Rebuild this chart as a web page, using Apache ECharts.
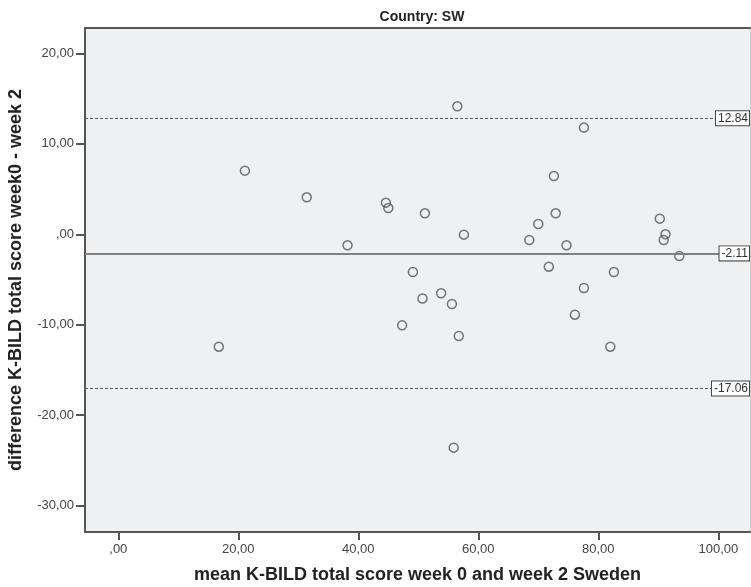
<!DOCTYPE html>
<html>
<head>
<meta charset="utf-8">
<script src="https://cdn.jsdelivr.net/npm/echarts@6/dist/echarts.min.js"></script>
<style>
html,body{margin:0;padding:0;background:#fff;}
#chart{width:751px;height:587px;}
</style>
</head>
<body>
<div id="chart"></div>
<script>
// Data
var meanScores = [16.75, 21.1, 31.4, 38.2, 44.6, 45.0, 47.3, 49.1, 50.7, 51.1, 53.8, 55.6, 55.9, 56.5, 56.75, 57.6, 68.5, 70.0, 71.75, 72.6, 72.9, 74.7, 76.1, 77.6, 77.6, 82.0, 82.6, 90.25, 90.9, 91.2, 93.5];
var differences = [-12.43, 7.04, 4.09, -1.22, 3.5, 2.9, -10.07, -4.17, -7.1, 2.32, -6.53, -7.71, -23.6, 14.16, -11.25, -0.04, -0.63, 1.14, -3.58, 6.45, 2.32, -1.22, -8.89, 11.8, -5.94, -12.43, -4.17, 1.73, -0.63, 0.0, -2.4];
var refValues = [12.84, -2.11, -17.06];
var refLabels = ['12.84', '-2.11', '-17.06'];
var xTicks = [0, 20, 40, 60, 80, 100];
var yTicks = [-30, -20, -10, 0, 10, 20];
var titleText = 'Country: SW';
var xName = 'mean K-BILD total score week 0 and week 2 Sweden';
var yName = 'difference K-BILD total score week0 - week 2';

var points = meanScores.map(function (x, i) { return [x, differences[i]]; });
function fmt(v) { return v === 0 ? ',00' : v.toFixed(2).replace('.', ','); }

var FONT = 'Liberation Sans, Arial, sans-serif';
var chart = echarts.init(document.getElementById('chart'), null, {renderer: 'canvas'});
var dashStyle = {color: '#555', width: 1, type: [3, 2]};
var solidStyle = {color: '#808080', width: 2, type: 'solid'};

chart.setOption({
  animation: false,
  backgroundColor: '#fff',
  title: {
    text: titleText, left: 417, top: 5, textAlign: 'center',
    textStyle: {fontFamily: 'Liberation Sans Narrow, Arial Narrow, ' + FONT, fontWeight: 'bold', fontSize: 14, color: '#222'}
  },
  grid: {left: 85, right: 1, top: 28, bottom: 55, show: true, backgroundColor: '#eff0f2', borderWidth: 0, containLabel: false, outerBoundsMode: 'none'},
  xAxis: [{
    type: 'value', min: -5.55, max: 105.28,
    name: xName, nameLocation: 'middle', nameGap: 34,
    nameTextStyle: {fontFamily: FONT, fontWeight: 'bold', fontSize: 18, color: '#222'},
    axisLine: {show: true, onZero: false, lineStyle: {color: '#555', width: 2}},
    axisTick: {show: true, length: 8, customValues: xTicks, lineStyle: {color: '#555', width: 2}},
    axisLabel: {customValues: xTicks, formatter: fmt, margin: 11, fontFamily: FONT, fontSize: 13, color: '#444'},
    splitLine: {show: false}
  }, {
    type: 'value', position: 'top', min: -5.55, max: 105.28,
    axisLine: {show: true, onZero: false, lineStyle: {color: '#555', width: 2}},
    axisTick: {show: false}, axisLabel: {show: false}, splitLine: {show: false}
  }],
  yAxis: [{
    type: 'value', min: -32.93, max: 22.82,
    name: yName, nameLocation: 'middle', nameGap: 60,
    nameTextStyle: {fontFamily: FONT, fontWeight: 'bold', fontSize: 18, color: '#222'},
    axisLine: {show: true, onZero: false, lineStyle: {color: '#555', width: 2}},
    axisTick: {show: true, length: 9, customValues: yTicks, lineStyle: {color: '#555', width: 2}},
    axisLabel: {customValues: yTicks, formatter: fmt, margin: 11, fontFamily: FONT, fontSize: 13, color: '#444'},
    splitLine: {show: false}
  }, {
    type: 'value', position: 'right', min: -32.93, max: 22.82,
    axisLine: {show: true, onZero: false, lineStyle: {color: '#d0d0d0', width: 1}},
    axisTick: {show: false}, axisLabel: {show: false}, splitLine: {show: false}
  }],
  series: [{
    type: 'scatter',
    data: points,
    symbol: 'circle',
    symbolSize: 9,
    itemStyle: {color: 'rgba(0,0,0,0)', borderColor: '#555', borderWidth: 1.5},
    markLine: {
      silent: true,
      symbol: 'none',
      animation: false,
      label: {
        show: true, position: 'insideEnd', distance: 1,
        fontFamily: FONT, fontSize: 12, color: '#333',
        backgroundColor: '#fff', borderColor: '#444', borderWidth: 1,
        padding: [1, 1, 1, 2]
      },
      data: refValues.map(function (v, i) {
        return {
          yAxis: v,
          lineStyle: i === 1 ? solidStyle : dashStyle,
          label: {formatter: refLabels[i]}
        };
      })
    }
  }]
});
</script>
</body>
</html>
